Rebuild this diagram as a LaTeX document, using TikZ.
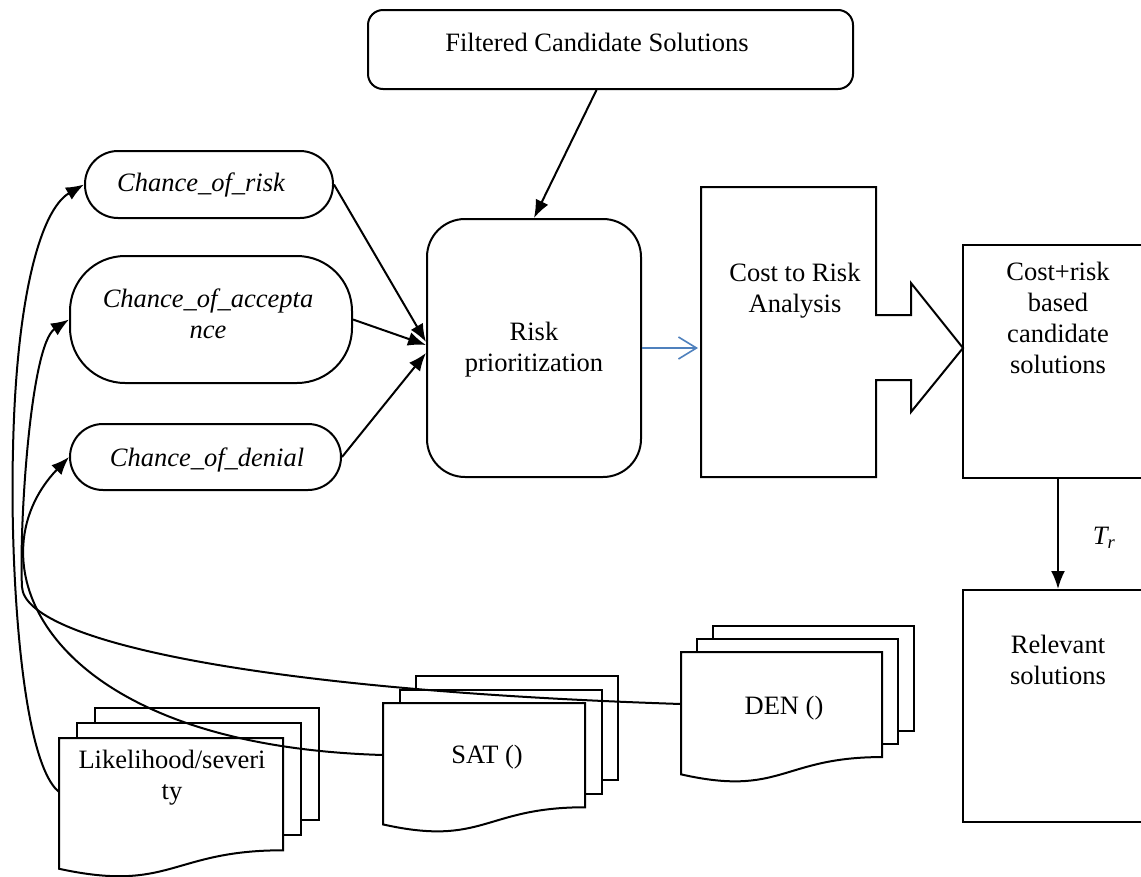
\documentclass[tikz,border=0pt]{standalone}
\usepackage{fontspec}
\setmainfont{Liberation Serif}
\usetikzlibrary{arrows.meta,calc}
\definecolor{wordblue}{RGB}{79,129,189}
\newcommand{\mdoc}[6]{% x0 y0 w h dx dy
  \foreach \k in {2,1}{
    \filldraw[ln,fill=white] ({#1+\k*#5},{#2-\k*#6}) rectangle ({#1+\k*#5+#3},{#2-\k*#6+0.802*#4});
  }
  \filldraw[ln,fill=white] (#1,#2) -- ({#1+#3},#2) -- ({#1+#3},{#2+0.802*#4})
    .. controls ({#1+0.5*#3},{#2+0.802*#4}) and ({#1+0.5*#3},{#2+1.1075*#4}) .. (#1,{#2+0.934*#4}) -- cycle;
}
\begin{document}
\begin{tikzpicture}[x=1pt,y=-1pt,
  ln/.style={line width=2pt,line join=miter},
  arr/.style={ln,-{Latex[length=18pt,width=14pt]}},
  txt/.style={font=\fontsize{26.5}{31}\selectfont,align=center,inner sep=0pt},
  itx/.style={font=\fontsize{26.5}{31}\selectfont\itshape,align=center,inner sep=0pt},
  shp/.style 2 args={draw,ln,inner sep=0pt,minimum width=#1,minimum height=#2},
]
\clip (0,0) rectangle (1141,876);
\fill[white] (0,0) rectangle (1141,876);

% top box
\node[shp={485pt}{79pt},rounded corners=15pt] (filt) at (610.5,49.5) {};
\node[txt] (filtT) at (597,42) {Filtered Candidate Solutions};

% risk prioritization
\node[shp={214pt}{258pt},rounded corners=38pt] (risk) at (534,348) {};
\node[txt] (riskT) at (534,350) {Risk\\prioritization};

% chance boxes
\node[shp={248pt}{67pt},rounded corners=33pt] (cr) at (209,184.5) {};
\node[itx] (crT) at (201,185) {Chance\_of\_risk};
\node[shp={282pt}{127pt},rounded corners=55pt] (ca) at (211,319.5) {};
\node[itx] (caT) at (208,314) {Chance\_of\_accepta\\nce};
\node[shp={271pt}{66pt},rounded corners=33pt] (cd) at (205.5,457) {};
\node[itx] (cdT) at (207,460) {Chance\_of\_denial};

% cost to risk analysis block arrow
\draw[ln] (701,187) -- (876,187) -- (876,315) -- (911,315) -- (911,283) -- (963,348)
  -- (911,412) -- (911,380) -- (876,380) -- (876,477) -- (701,477) -- cycle;
\coordinate (costIn) at (698,348);
\node[txt] (costT) at (795,291) {Cost to Risk\\Analysis};

% right boxes
\node[shp={190pt}{233pt}] (crb) at (1058,361.5) {};
\node[txt] (crbT) at (1058,318) {Cost+risk\\based\\candidate\\solutions};
\node[shp={190pt}{232pt}] (rel) at (1058,706) {};
\node[txt] (relT) at (1058,660) {Relevant\\solutions};
\node[txt] (tr) at (1104,538) {\itshape T\textsubscript{r}};

% multi-documents
\mdoc{59}{738}{224}{140}{18}{15}
\node[txt] (likT) at (172,778) {Likelihood/severi\\ty};
\mdoc{383}{703}{202}{130}{16.5}{13.5}
\node[txt] (satT) at (487,757) {SAT ()};
\mdoc{681}{652}{201}{131}{16}{13}
\node[txt] (denT) at (784,708) {DEN ()};
\coordinate (lik) at (59,792);
\coordinate (sat) at (383,755);
\coordinate (den) at (681,704);

% connectors
\draw[arr] ([xshift=-14pt]filt.south) -- (risk.north);
\draw[arr] (cr.east) -- ([yshift=6pt]risk.west);
\draw[arr] (ca.east) -- ([yshift=3pt]risk.west);
\draw[arr] (cd.east) -- ([yshift=-5pt]risk.west);
\draw[wordblue,line width=1.6pt,-{Straight Barb[length=18pt,width=22pt,line width=1.6pt]}] (risk.east) -- (costIn);
\draw[arr] (crb.south) -- (rel.north);

\draw[arr] (lik) .. controls (20,760) and (10,560) .. (13,450)
  .. controls (16,300) and (40,210) .. (cr.west);
\draw[arr] (sat) .. controls (40,745) and (-30,560) .. (cd.west);
\draw[arr] (den) .. controls (250,690) and (25,640) .. (22,587)
  .. controls (19,530) and (30,345) .. (ca.west);
\end{tikzpicture}
\end{document}
